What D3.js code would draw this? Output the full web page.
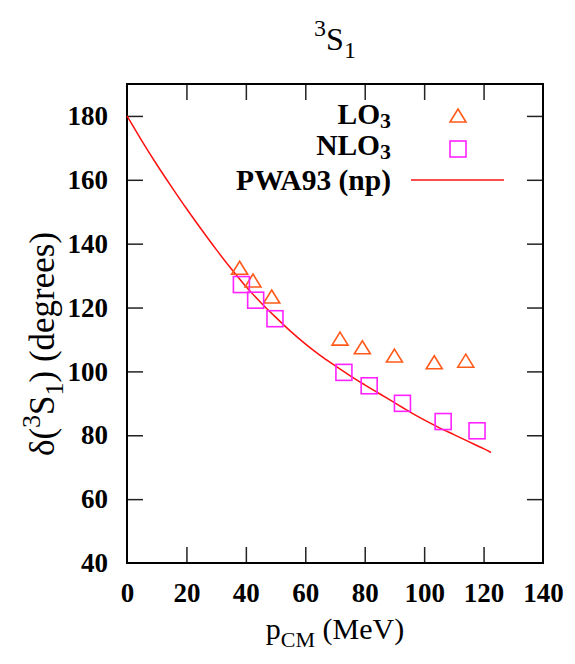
<!DOCTYPE html>
<html><head><meta charset="utf-8">
<script src="https://cdn.jsdelivr.net/npm/d3@7"></script>
<style>html,body{margin:0;padding:0;background:#fff;}svg{display:block;}</style>
</head><body>
<script>
// Data
const loX = [37.9, 42.4, 48.7, 71.7, 79.2, 90.0, 103.4, 114.0];
const loY = [132.3, 128.3, 123.3, 110.1, 107.4, 104.8, 102.7, 103.2];
const nloX = [38.5, 43.3, 49.8, 73.0, 81.5, 92.7, 106.4, 117.8];
const nloY = [127.2, 122.3, 116.5, 99.7, 95.5, 90.0, 84.3, 81.4];
const pwaX = [0, 5, 10, 15, 20, 25, 30, 35, 40, 45, 50, 55, 60, 65, 70, 75, 80, 85, 90, 95, 100, 105, 110, 115, 120, 122.5];
const pwaY = [180, 172.2, 164.8, 157.8, 151.0, 144.5, 138.2, 132.2, 126.6, 121.6, 117.0, 112.6, 108.6, 105.0, 101.8, 98.7, 95.8, 93.0, 90.2, 87.4, 84.8, 82.4, 80.2, 78.0, 75.8, 74.6];
const xTicks = [0, 20, 40, 60, 80, 100, 120, 140];
const yTicks = [40, 60, 80, 100, 120, 140, 160, 180];

const W = 575, H = 664;
const L = 127, R = 543, T = 84, B = 563;
const FONT = "'Liberation Serif','Times New Roman',serif";
const cLO = "#ff5a1a", cNLO = "#ff22ff", cPWA = "#ff1010";

const svg = d3.select("body").append("svg").attr("width", W).attr("height", H)
  .style("font-family", FONT);

const x = d3.scaleLinear().domain([0, 140]).range([L, R]);
const y = d3.scaleLinear().domain([40, 190]).range([B, T]);

// axes with inward ticks (mirror on top/right)
const tickLen = 16;
const gx = svg.append("g").attr("transform", `translate(0,${B})`)
  .call(d3.axisBottom(x).tickValues(xTicks).tickSizeInner(-tickLen).tickSizeOuter(0).tickPadding(20));
const gy = svg.append("g").attr("transform", `translate(${L},0)`)
  .call(d3.axisLeft(y).tickValues(yTicks).tickSizeInner(-tickLen).tickSizeOuter(0).tickPadding(19));
const gx2 = svg.append("g").attr("transform", `translate(0,${T})`)
  .call(d3.axisTop(x).tickValues(xTicks).tickSizeInner(-tickLen).tickSizeOuter(0).tickFormat(""));
const gy2 = svg.append("g").attr("transform", `translate(${R},0)`)
  .call(d3.axisRight(y).tickValues(yTicks).tickSizeInner(-tickLen).tickSizeOuter(0).tickFormat(""));
[gx, gy, gx2, gy2].forEach(g => {
  g.select(".domain").remove();
  g.selectAll(".tick line").attr("stroke", "#222").attr("stroke-width", 1.5);
  g.selectAll(".tick text").attr("fill", "#000").style("font-family", FONT)
    .style("font-size", "27px").style("font-weight", "bold");
});
gx.selectAll(".tick").filter(d => d === 0 || d === 140).select("line").remove();
gx2.selectAll(".tick").filter(d => d === 0 || d === 140).select("line").remove();
gy.selectAll(".tick").filter(d => d === 40).select("line").remove();
gy2.selectAll(".tick").filter(d => d === 40).select("line").remove();

// frame
svg.append("rect").attr("x", L).attr("y", T).attr("width", R - L).attr("height", B - T)
  .attr("fill", "none").attr("stroke", "#000").attr("stroke-width", 2);

// PWA curve
const pwa = pwaX.map((v, i) => [v, pwaY[i]]);
svg.append("path").datum(pwa)
  .attr("d", d3.line().x(d => x(d[0])).y(d => y(d[1])).curve(d3.curveMonotoneX))
  .attr("fill", "none").attr("stroke", cPWA).attr("stroke-width", 1.5);

// markers
const lo = loX.map((v, i) => [v, loY[i]]);
svg.append("g").selectAll("path").data(lo).join("path")
  .attr("d", "M0,-7 L8,6 L-8,6 Z")
  .attr("transform", d => `translate(${x(d[0])},${y(d[1])})`)
  .attr("fill", "none").attr("stroke", cLO).attr("stroke-width", 1.6);
const nlo = nloX.map((v, i) => [v, nloY[i]]);
svg.append("g").selectAll("rect").data(nlo).join("rect")
  .attr("x", d => x(d[0]) - 8).attr("y", d => y(d[1]) - 8)
  .attr("width", 16).attr("height", 16)
  .attr("fill", "none").attr("stroke", cNLO).attr("stroke-width", 1.6);

// legend
const lg = svg.append("g").style("font-weight", "bold");
function subText(g, xx, yy, main, sub, size, anchor) {
  const t = g.append("text").attr("x", xx).attr("y", yy).attr("text-anchor", anchor)
    .style("font-size", size + "px").attr("fill", "#000");
  t.append("tspan").text(main);
  if (sub) t.append("tspan").attr("dy", 4).style("font-size", (size * 0.74) + "px").text(sub);
  return t;
}
subText(lg, 391, 124, "LO", "3", 29.5, "end");
subText(lg, 391, 155, "NLO", "3", 29.5, "end");
subText(lg, 391, 190, "PWA93 (np)", null, 29.5, "end");
lg.append("path").attr("d", "M0,-7 L8,6 L-8,6 Z").attr("transform", "translate(458,116)")
  .attr("fill", "none").attr("stroke", cLO).attr("stroke-width", 1.6);
lg.append("rect").attr("x", 450).attr("y", 141).attr("width", 16).attr("height", 16)
  .attr("fill", "none").attr("stroke", cNLO).attr("stroke-width", 1.6);
lg.append("line").attr("x1", 411).attr("x2", 504).attr("y1", 180).attr("y2", 180)
  .attr("stroke", cPWA).attr("stroke-width", 1.5);

// title
const tt = svg.append("text").attr("x", 335).attr("y", 50).attr("text-anchor", "middle")
  .style("font-size", "32px").attr("fill", "#000");
tt.append("tspan").attr("dy", -14).style("font-size", "24px").text("3");
tt.append("tspan").attr("dy", 14).text("S");
tt.append("tspan").attr("dy", 8).style("font-size", "24px").text("1");

// x label
const xl = svg.append("text").attr("x", 335).attr("y", 639).attr("text-anchor", "middle")
  .style("font-size", "30px").attr("fill", "#000");
xl.append("tspan").text("p");
xl.append("tspan").attr("dy", 8).style("font-size", "22px").text("CM");
xl.append("tspan").attr("dy", -8).text(" (MeV)");

// y label
const yl = svg.append("text").attr("transform", "translate(54,344) rotate(-90)")
  .attr("text-anchor", "middle").style("font-size", "35px").attr("fill", "#000");
yl.append("tspan").text("δ(");
yl.append("tspan").attr("dy", -14).style("font-size", "26px").text("3");
yl.append("tspan").attr("dy", 14).text("S");
yl.append("tspan").attr("dy", 9).style("font-size", "26px").text("1");
yl.append("tspan").attr("dy", -9).text(") (degrees)");
</script>
</body></html>
